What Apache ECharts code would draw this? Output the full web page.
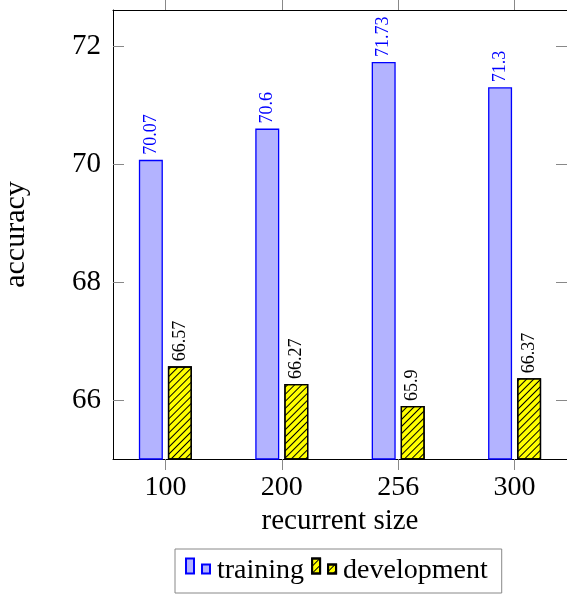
<!DOCTYPE html>
<html>
<head>
<meta charset="utf-8">
<script src="https://cdn.jsdelivr.net/npm/echarts@6/dist/echarts.min.js"></script>
<style>html,body{margin:0;padding:0;background:#fff}#c{width:567px;height:594px}</style>
</head>
<body>
<div id="c"></div>
<script>
var categories = ['100', '200', '256', '300'];
var training = [70.07, 70.6, 71.73, 71.3];
var development = [66.57, 66.27, 65.9, 66.37];
var yTicks = [66, 68, 70, 72];
var seriesNames = ['training', 'development'];

var idx = categories.map(function (c, i) { return i; });
var serif = 'Liberation Serif';
var chart = echarts.init(document.getElementById('c'), null, {renderer: 'canvas'});

function pairs(vals) { return vals.map(function (v, i) { return [i, v]; }); }

var xCommon = {
  type: 'value', min: -0.45, max: 3.45,
  splitLine: {show: false},
  axisLine: {show: true, onZero: false, lineStyle: {color: '#000', width: 1}},
  axisTick: {show: true, inside: false, length: 11, customValues: idx, lineStyle: {color: '#888', width: 1}}
};
var yCommon = {
  type: 'value', min: 65, max: 72.61,
  splitLine: {show: false},
  axisLine: {show: true, onZero: false, lineStyle: {color: '#000', width: 1}},
  axisTick: {show: true, inside: true, length: 11, customValues: yTicks, lineStyle: {color: '#888', width: 1}}
};

var hatch = {
  symbol: 'rect', symbolSize: 1, rotation: -Math.PI / 4,
  dashArrayX: [[1, 0]], dashArrayY: [1, 3.8], color: '#000'
};
// two small bars in the top of a taller invisible box so the icon sits a little higher
var iconPath = 'path://M0,0H8V15H0Z M16,6H24V15H16Z M0,25';

chart.setOption({
  animation: false,
  grid: {left: 113, right: 0, top: 10, bottom: 135, containLabel: false, outerBoundsMode: 'none'},
  legend: {
    bottom: 1, left: 175,
    data: [{name: seriesNames[0], icon: iconPath}, {name: seriesNames[1], icon: iconPath}],
    itemWidth: 24, itemHeight: 25, itemGap: 7,
    padding: [8, 14, 8, 10],
    borderColor: '#888', borderWidth: 1,
    textStyle: {fontFamily: serif, fontSize: 28, color: '#000', padding: [0, 0, 0, 2]}
  },
  xAxis: [
    Object.assign({}, xCommon, {
      position: 'bottom',
      name: 'recurrent size', nameLocation: 'middle', nameGap: 46,
      nameTextStyle: {fontFamily: serif, fontSize: 29, color: '#000'},
      axisLabel: {show: true, customValues: idx, margin: 15, fontFamily: serif, fontSize: 28, color: '#000',
        formatter: function (v) { return categories[Math.round(v)]; }}
    }),
    Object.assign({}, xCommon, {position: 'top', axisLabel: {show: false}})
  ],
  yAxis: [
    Object.assign({}, yCommon, {
      position: 'left',
      name: 'accuracy', nameLocation: 'middle', nameGap: 82, nameRotate: 90,
      nameTextStyle: {fontFamily: serif, fontSize: 30, color: '#000'},
      axisLabel: {show: true, customValues: yTicks, margin: 12, fontFamily: serif, fontSize: 29, color: '#000'}
    }),
    Object.assign({}, yCommon, {position: 'right', axisLabel: {show: false}})
  ],
  series: [
    {
      name: seriesNames[0], type: 'bar', data: pairs(training),
      barWidth: 24, barGap: '21%',
      itemStyle: {color: '#b3b3ff', borderColor: '#0000ff', borderWidth: 1.3},
      label: {show: true, position: 'top', rotate: 90, align: 'left', verticalAlign: 'middle', distance: 5,
        fontFamily: serif, fontSize: 18, color: '#0000ff',
        formatter: function (p) { return String(p.value[1]); }}
    },
    {
      name: seriesNames[1], type: 'bar', data: pairs(development),
      barWidth: 24, barGap: '21%',
      itemStyle: {color: '#ffff00', borderColor: '#000', borderWidth: 1.3, decal: hatch},
      label: {show: true, position: 'top', rotate: 90, align: 'left', verticalAlign: 'middle', distance: 5,
        fontFamily: serif, fontSize: 18, color: '#000',
        formatter: function (p) { return String(p.value[1]); }}
    }
  ]
});
</script>
</body>
</html>
